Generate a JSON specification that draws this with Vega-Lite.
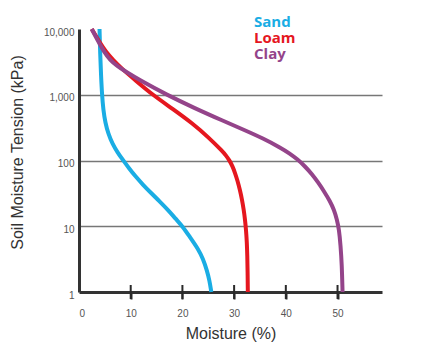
{
  "$schema": "https://vega.github.io/schema/vega-lite/v6.json",
  "autosize": "none",
  "width": 303,
  "height": 263,
  "padding": {"left": 79, "top": 29, "right": 58, "bottom": 60},
  "background": "white",
  "config": {"view": {"stroke": null}, "font": "Liberation Sans"},
  "datasets": {
    "curves": [
      {"soil": "Sand", "moisture": 3.97, "kpa": 10000},
      {"soil": "Sand", "moisture": 4.10, "kpa": 4040},
      {"soil": "Sand", "moisture": 4.26, "kpa": 2006},
      {"soil": "Sand", "moisture": 4.45, "kpa": 1000},
      {"soil": "Sand", "moisture": 4.70, "kpa": 590},
      {"soil": "Sand", "moisture": 5.09, "kpa": 374},
      {"soil": "Sand", "moisture": 5.67, "kpa": 255},
      {"soil": "Sand", "moisture": 6.48, "kpa": 179},
      {"soil": "Sand", "moisture": 7.45, "kpa": 133},
      {"soil": "Sand", "moisture": 8.57, "kpa": 100},
      {"soil": "Sand", "moisture": 9.67, "kpa": 76.1},
      {"soil": "Sand", "moisture": 10.83, "kpa": 58.5},
      {"soil": "Sand", "moisture": 12.38, "kpa": 42.7},
      {"soil": "Sand", "moisture": 14.06, "kpa": 31.4},
      {"soil": "Sand", "moisture": 15.67, "kpa": 23.6},
      {"soil": "Sand", "moisture": 17.28, "kpa": 17.5},
      {"soil": "Sand", "moisture": 18.76, "kpa": 12.8},
      {"soil": "Sand", "moisture": 20.02, "kpa": 10},
      {"soil": "Sand", "moisture": 21.47, "kpa": 6.81},
      {"soil": "Sand", "moisture": 23.02, "kpa": 4.55},
      {"soil": "Sand", "moisture": 23.98, "kpa": 3.21},
      {"soil": "Sand", "moisture": 24.76, "kpa": 2.11},
      {"soil": "Sand", "moisture": 25.24, "kpa": 1.49},
      {"soil": "Sand", "moisture": 25.59, "kpa": 1},
      {"soil": "Loam", "moisture": 2.46, "kpa": 10000},
      {"soil": "Loam", "moisture": 4.06, "kpa": 6150},
      {"soil": "Loam", "moisture": 5.22, "kpa": 4490},
      {"soil": "Loam", "moisture": 6.58, "kpa": 3390},
      {"soil": "Loam", "moisture": 8.32, "kpa": 2475},
      {"soil": "Loam", "moisture": 11.03, "kpa": 1626},
      {"soil": "Loam", "moisture": 14.22, "kpa": 1000},
      {"soil": "Loam", "moisture": 18.09, "kpa": 611},
      {"soil": "Loam", "moisture": 21.95, "kpa": 367},
      {"soil": "Loam", "moisture": 25.05, "kpa": 225},
      {"soil": "Loam", "moisture": 27.76, "kpa": 138},
      {"soil": "Loam", "moisture": 28.43, "kpa": 119},
      {"soil": "Loam", "moisture": 29.11, "kpa": 100},
      {"soil": "Loam", "moisture": 29.69, "kpa": 81.6},
      {"soil": "Loam", "moisture": 30.17, "kpa": 65.0},
      {"soil": "Loam", "moisture": 30.66, "kpa": 49.1},
      {"soil": "Loam", "moisture": 31.14, "kpa": 35.2},
      {"soil": "Loam", "moisture": 31.53, "kpa": 25.3},
      {"soil": "Loam", "moisture": 31.86, "kpa": 17.8},
      {"soil": "Loam", "moisture": 32.11, "kpa": 12.6},
      {"soil": "Loam", "moisture": 32.30, "kpa": 8.85},
      {"soil": "Loam", "moisture": 32.46, "kpa": 5.81},
      {"soil": "Loam", "moisture": 32.55, "kpa": 3.56},
      {"soil": "Loam", "moisture": 32.61, "kpa": 2.04},
      {"soil": "Loam", "moisture": 32.65, "kpa": 1},
      {"soil": "Clay", "moisture": 2.46, "kpa": 10000},
      {"soil": "Clay", "moisture": 3.68, "kpa": 6590},
      {"soil": "Clay", "moisture": 4.84, "kpa": 4490},
      {"soil": "Clay", "moisture": 6.00, "kpa": 3390},
      {"soil": "Clay", "moisture": 7.35, "kpa": 2750},
      {"soil": "Clay", "moisture": 9.09, "kpa": 2229},
      {"soil": "Clay", "moisture": 11.8, "kpa": 1656},
      {"soil": "Clay", "moisture": 16.96, "kpa": 1000},
      {"soil": "Clay", "moisture": 22.44, "kpa": 621},
      {"soil": "Clay", "moisture": 27.66, "kpa": 408},
      {"soil": "Clay", "moisture": 32.11, "kpa": 288},
      {"soil": "Clay", "moisture": 35.59, "kpa": 217},
      {"soil": "Clay", "moisture": 38.88, "kpa": 158},
      {"soil": "Clay", "moisture": 40.81, "kpa": 127},
      {"soil": "Clay", "moisture": 42.26, "kpa": 104},
      {"soil": "Clay", "moisture": 43.71, "kpa": 81.6},
      {"soil": "Clay", "moisture": 45.07, "kpa": 61.7},
      {"soil": "Clay", "moisture": 46.23, "kpa": 46.6},
      {"soil": "Clay", "moisture": 47.39, "kpa": 34.0},
      {"soil": "Clay", "moisture": 48.55, "kpa": 24.0},
      {"soil": "Clay", "moisture": 49.32, "kpa": 17.8},
      {"soil": "Clay", "moisture": 49.90, "kpa": 12.6},
      {"soil": "Clay", "moisture": 50.29, "kpa": 8.85},
      {"soil": "Clay", "moisture": 50.58, "kpa": 5.23},
      {"soil": "Clay", "moisture": 50.83, "kpa": 2.60},
      {"soil": "Clay", "moisture": 50.97, "kpa": 1}
    ],
    "axisTicks": [
      {"moisture": 10}, {"moisture": 20}, {"moisture": 30}, {"moisture": 40}, {"moisture": 50}
    ]
  },
  "encoding": {
    "x": {
      "field": "moisture", "type": "quantitative",
      "scale": {"domain": [0, 58.6], "nice": false, "zero": false},
      "axis": {
        "values": [0, 10, 20, 30, 40, 50],
        "title": "Moisture (%)",
        "titleFontSize": 16, "titleFontWeight": "normal", "titleColor": "#333",
        "titleY": 46, "titleBaseline": "alphabetic",
        "labelFontSize": 10, "labelColor": "#555", "labelPadding": 9,
        "ticks": true, "tickSize": 7, "tickWidth": 2, "tickColor": "#2a2a2a",
        "tickOpacity": {"condition": {"test": "datum.value === 0", "value": 0}, "value": 1},
        "domainWidth": 3, "domainColor": "#333",
        "grid": false
      }
    }
  },
  "layer": [
    {
      "data": {"name": "axisTicks"},
      "mark": {"type": "rule", "strokeWidth": 2, "color": "#2a2a2a"},
      "encoding": {
        "y": {"datum": 0.783, "type": "quantitative"},
        "y2": {"datum": 1.278}
      }
    },
    {
      "data": {"name": "curves"},
      "mark": {"type": "line", "interpolate": "basis", "strokeWidth": 4},
      "encoding": {
        "y": {
          "field": "kpa", "type": "quantitative",
          "scale": {"type": "log", "domain": [1, 10000], "nice": false},
          "axis": {
            "values": [1, 10, 100, 1000, 10000],
            "format": ",",
            "title": "Soil Moisture Tension (kPa)",
            "titleFontSize": 16, "titleFontWeight": "normal", "titleColor": "#333",
            "titleX": -54, "titleY": 123,
            "labelFontSize": 10, "labelColor": "#555", "labelPadding": 5, "labelOffset": 3,
            "ticks": false, "tickSize": 0,
            "domainWidth": 3, "domainColor": "#333",
            "grid": true, "gridColor": "#777", "gridWidth": 1.5,
            "gridOpacity": {"condition": {"test": "datum.value >= 10000 || datum.value <= 1", "value": 0}, "value": 1}
          }
        },
        "color": {
          "field": "soil", "type": "nominal",
          "scale": {"domain": ["Sand", "Loam", "Clay"], "range": ["#1aade4", "#e5171f", "#94448a"]},
          "legend": {
            "orient": "none", "legendX": 160, "legendY": -15,
            "title": null,
            "symbolSize": 0, "symbolStrokeWidth": 0, "symbolOpacity": 0,
            "labelFont": "Open Sans", "labelFontSize": 15, "labelFontWeight": "bold",
            "labelOffset": 0, "rowPadding": 0,
            "encode": {"labels": {"update": {"fill": {"scale": "color", "field": "value"}}}}
          }
        },
        "order": {"field": "kpa", "sort": "descending"}
      }
    }
  ]
}
